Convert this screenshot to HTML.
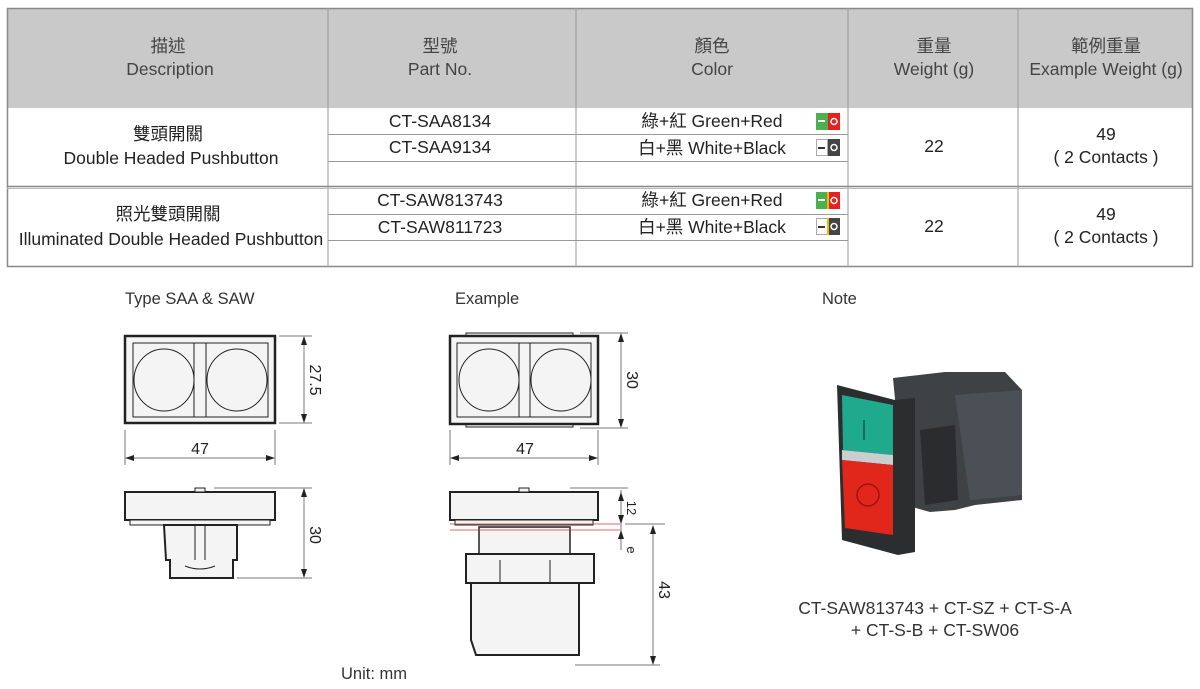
<!DOCTYPE html>
<html><head><meta charset="utf-8"><style>
body{margin:0;width:1200px;height:689px;background:#fff;overflow:hidden;font-family:"Liberation Sans","Noto Sans CJK TC",sans-serif;color:#222;}
.t{position:absolute;left:0;top:0}
</style></head><body>
<svg class="t" width="1200" height="689" viewBox="0 0 1200 689" font-family="Liberation Sans, Noto Sans CJK TC, sans-serif">
<!-- table -->
<rect x="7" y="8" width="1185" height="100" fill="#c9c9ca"/>
<g stroke="#9a9a9a" stroke-width="1" fill="none">
<rect x="7.5" y="8.5" width="1185" height="258" stroke="#888" stroke-width="1.5"/>
<line x1="328" y1="8" x2="328" y2="267"/><line x1="576" y1="8" x2="576" y2="267"/>
<line x1="848" y1="8" x2="848" y2="267"/><line x1="1018" y1="8" x2="1018" y2="267"/>
<line x1="328" y1="134.5" x2="848" y2="134.5"/><line x1="328" y1="161.5" x2="848" y2="161.5"/>
<line x1="328" y1="214.5" x2="848" y2="214.5"/><line x1="328" y1="240.5" x2="848" y2="240.5"/>
<line x1="7" y1="186.5" x2="1192" y2="186.5" stroke="#888" stroke-width="1.5"/>
<line x1="7" y1="188.5" x2="1192" y2="188.5" stroke="#bbb"/>
</g>
<g font-size="17.5" text-anchor="middle" fill="#444">
<text x="168" y="52">描述</text><text x="170" y="75">Description</text>
<text x="440" y="52">型號</text><text x="440" y="75">Part No.</text>
<text x="712" y="52">顏色</text><text x="712" y="75">Color</text>
<text x="934" y="52">重量</text><text x="934" y="75">Weight (g)</text>
<text x="1106" y="52">範例重量</text><text x="1106" y="75">Example Weight (g)</text>
</g>
<g font-size="17.5" text-anchor="middle" fill="#222">
<text x="168" y="140">雙頭開關</text><text x="171" y="164">Double Headed Pushbutton</text>
<text x="168" y="220">照光雙頭開關</text><text x="171" y="245">Illuminated Double Headed Pushbutton</text>
<text x="440" y="127">CT-SAA8134</text><text x="440" y="153">CT-SAA9134</text>
<text x="440" y="206">CT-SAW813743</text><text x="440" y="233">CT-SAW811723</text>
<text x="712" y="127">綠+紅 Green+Red</text><text x="712" y="154">白+黑 White+Black</text>
<text x="712" y="206">綠+紅 Green+Red</text><text x="712" y="233">白+黑 White+Black</text>
<text x="934" y="152">22</text><text x="934" y="232">22</text>
<text x="1106" y="140">49</text><text x="1106" y="163">( 2 Contacts )</text>
<text x="1106" y="220">49</text><text x="1106" y="243">( 2 Contacts )</text>
</g>
<!-- color icons -->
<g>
<rect x="816" y="113" width="12" height="17" fill="#4caf50"/><rect x="828" y="113" width="12" height="17" fill="#e5221f"/>
<rect x="818" y="120" width="7" height="2" fill="#fff"/><circle cx="834" cy="121.5" r="3" fill="none" stroke="#fff" stroke-width="1.5"/>
<rect x="816.5" y="139.5" width="11" height="16" fill="#fff" stroke="#aaa"/><rect x="828" y="139" width="12" height="17" fill="#444"/>
<rect x="818" y="147" width="7" height="2" fill="#333"/><circle cx="834" cy="147.5" r="3" fill="none" stroke="#fff" stroke-width="1.5"/>
<rect x="816" y="192" width="12" height="17" fill="#4caf50"/><rect x="828" y="192" width="12" height="17" fill="#e5221f"/><rect x="827" y="192" width="2" height="17" fill="#f5b800"/>
<rect x="818" y="199" width="7" height="2" fill="#fff"/><circle cx="834" cy="200.5" r="3" fill="none" stroke="#fff" stroke-width="1.5"/>
<rect x="816.5" y="218.5" width="11" height="16" fill="#fff" stroke="#aaa"/><rect x="828" y="218" width="12" height="17" fill="#444"/><rect x="827" y="218" width="2" height="17" fill="#f5b800"/>
<rect x="818" y="226" width="7" height="2" fill="#333"/><circle cx="834" cy="226.5" r="3" fill="none" stroke="#fff" stroke-width="1.5"/>
</g>
<!-- section labels -->
<g font-size="16.5" fill="#333">
<text x="125" y="304">Type SAA &amp; SAW</text><text x="455" y="304">Example</text><text x="822" y="304">Note</text>
<text x="341" y="679">Unit: mm</text>
<text x="935" y="614" text-anchor="middle" font-size="17.5">CT-SAW813743 + CT-SZ + CT-S-A</text>
<text x="935" y="636" text-anchor="middle" font-size="17.5">+ CT-S-B + CT-SW06</text>
</g>
<!-- drawings -->
<g stroke="#222" fill="#f4f4f4" stroke-width="1">
<rect x="125" y="336" width="150" height="87" stroke-width="2.5"/>
<rect x="133" y="343" width="135" height="74"/>
<rect x="194" y="343" width="12" height="74"/>
<ellipse cx="164" cy="380" rx="30" ry="31"/><ellipse cx="237" cy="380" rx="30" ry="31"/>
<rect x="125" y="492" width="150" height="28" stroke-width="2"/>
<rect x="195" y="488" width="10" height="4"/>
<rect x="130" y="520" width="140" height="5"/>
<path d="M164 525 H237 V560 H233 V578 H170 V560 H166 Z" stroke-width="2"/>
<line x1="195" y1="525" x2="195" y2="560"/><line x1="205" y1="525" x2="205" y2="560"/>
<path d="M185 566 Q200 572 215 566"/>
<!-- example -->
<rect x="466" y="333" width="107" height="4"/><rect x="466" y="423" width="107" height="4"/>
<rect x="450" y="336" width="148" height="88" stroke-width="2.5"/>
<rect x="457" y="343" width="134" height="74"/>
<rect x="519" y="343" width="11" height="74"/>
<ellipse cx="489" cy="380" rx="30" ry="31"/><ellipse cx="561" cy="380" rx="30" ry="31"/>
<rect x="450" y="492" width="148" height="28" stroke-width="2"/>
<rect x="519" y="488" width="10" height="4"/>
<rect x="455" y="520" width="138" height="5"/>
<rect x="479" y="527" width="91" height="27" stroke-width="1.5"/>
<rect x="466" y="554" width="128" height="29" stroke-width="2"/>
<path d="M471 583 H579 V655 H476 L471 640 Z" stroke-width="2"/>
<line x1="500" y1="583" x2="500" y2="560"/><line x1="550" y1="583" x2="550" y2="560"/>
</g>
<g stroke="#d33" stroke-width="0.8"><line x1="450" y1="524" x2="620" y2="524"/><line x1="450" y1="530" x2="620" y2="530"/></g>
<!-- dimension lines -->
<g stroke="#777" stroke-width="1" fill="none">
<line x1="279" y1="336" x2="312" y2="336"/><line x1="279" y1="423" x2="312" y2="423"/><line x1="304" y1="340" x2="304" y2="419"/>
<line x1="125" y1="430" x2="125" y2="465"/><line x1="275" y1="430" x2="275" y2="465"/><line x1="130" y1="458" x2="270" y2="458"/>
<line x1="214" y1="488" x2="312" y2="488"/><line x1="237" y1="578" x2="312" y2="578"/><line x1="304" y1="493" x2="304" y2="573"/>
<line x1="580" y1="333" x2="628" y2="333"/><line x1="580" y1="428" x2="628" y2="428"/><line x1="621" y1="338" x2="621" y2="423"/>
<line x1="450" y1="430" x2="450" y2="465"/><line x1="598" y1="430" x2="598" y2="465"/><line x1="455" y1="458" x2="593" y2="458"/>
<line x1="570" y1="488" x2="628" y2="488"/><line x1="621" y1="490" x2="621" y2="550"/>
<line x1="625" y1="524" x2="665" y2="524"/><line x1="653" y1="529" x2="653" y2="660"/><line x1="575" y1="665" x2="660" y2="665"/>
</g>
<g fill="#222">
<path d="M304 336 l-3 9 h6z"/><path d="M304 423 l-3 -9 h6z"/>
<path d="M125 458 l9 -3 v6z"/><path d="M275 458 l-9 -3 v6z"/>
<path d="M304 488 l-3 9 h6z"/><path d="M304 578 l-3 -9 h6z"/>
<path d="M621 333 l-3 9 h6z"/><path d="M621 428 l-3 -9 h6z"/>
<path d="M450 458 l9 -3 v6z"/><path d="M598 458 l-9 -3 v6z"/>
<path d="M621 492 l-3 9 h6z"/><path d="M621 524 l-3 -9 h6z"/><path d="M621 530 l-3 9 h6z"/>
<path d="M653 525 l-3 9 h6z"/><path d="M653 665 l-3 -9 h6z"/>
</g>
<g font-size="16" fill="#222">
<text x="200" y="454" text-anchor="middle">47</text><text x="525" y="454" text-anchor="middle">47</text>
<text transform="translate(310,380) rotate(90)" text-anchor="middle">27.5</text>
<text transform="translate(310,535) rotate(90)" text-anchor="middle">30</text>
<text transform="translate(627,380) rotate(90)" text-anchor="middle">30</text>
<text transform="translate(627,508) rotate(90)" text-anchor="middle" font-size="13">12</text>
<text transform="translate(627,550) rotate(90)" text-anchor="middle" font-size="13">e</text>
<text transform="translate(659,590) rotate(90)" text-anchor="middle">43</text>
</g>
<!-- photo -->
<g>
<path d="M893 378 L945 372 L1005 372 L1022 390 L1022 500 L975 505 L955 510 L930 512 L905 505 Z" fill="#3e4245"/>
<path d="M955 395 L1022 390 L1022 495 L970 500 Z" fill="#4a5055"/>
<path d="M920 430 L955 425 L958 500 L925 505 Z" fill="#2a2c2e"/>
<path d="M837 385 L895 400 L915 398 L915 552 L898 555 L842 540 Z" fill="#2b2d2f"/>
<path d="M842 395 L893 405 L893 455 L843 450 Z" fill="#1faa8e"/>
<path d="M842 450 L893 455 L893 465 L842 460 Z" fill="#c9cfcf"/>
<path d="M842 460 L893 465 L893 535 L845 528 Z" fill="#e1261c"/>
<circle cx="868" cy="495" r="11" fill="none" stroke="#9b1510" stroke-width="1.5"/>
<line x1="864" y1="420" x2="864" y2="440" stroke="#0d5b4c" stroke-width="1.5"/>
</g>
</svg>
</body></html>
